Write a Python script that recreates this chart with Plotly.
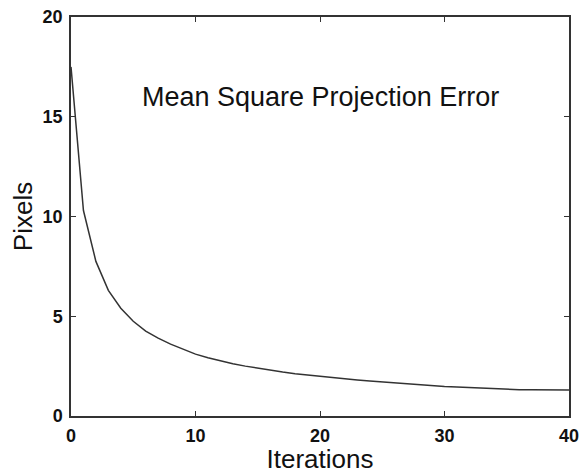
import plotly.graph_objects as go

iterations = list(range(0, 41))
pixels = [17.5, 10.3, 7.75, 6.3, 5.4, 4.75, 4.25, 3.9, 3.6, 3.35,
          3.1, 2.92, 2.76, 2.62, 2.5, 2.39, 2.29, 2.2, 2.12, 2.05,
          1.98, 1.92, 1.86, 1.8, 1.75, 1.7, 1.65, 1.61, 1.57, 1.53,
          1.48, 1.45, 1.42, 1.39, 1.36, 1.34, 1.32, 1.31, 1.30, 1.30, 1.30]
x_ticks = [0, 10, 20, 30, 40]
y_ticks = [0, 5, 10, 15, 20]
title_text = "Mean Square Projection Error"

FONT = "Liberation Sans, Arial"

fig = go.Figure()
fig.add_trace(go.Scatter(x=iterations, y=pixels, mode="lines",
                         line=dict(color="#333333", width=1.5),
                         showlegend=False, hoverinfo="skip"))

fig.add_annotation(x=20, y=16, text=title_text, showarrow=False,
                   font=dict(family=FONT, size=27, color="#111111"),
                   xanchor="center", yanchor="middle")

axis_common = dict(
    showgrid=False, zeroline=False, showline=True, linecolor="#333333",
    linewidth=1.5, mirror="ticks", ticks="inside", ticklen=5,
    tickwidth=1.2, tickcolor="#333333", automargin=False,
    tickfont=dict(family=FONT, size=18, color="#111111", weight="bold"),
)

fig.update_xaxes(range=[0, 40], tickvals=x_ticks, ticklabelstandoff=3,
                 title=dict(text="Iterations", standoff=3,
                            font=dict(family=FONT, size=26, color="#111111")),
                 **axis_common)
fig.update_yaxes(range=[0, 20], tickvals=y_ticks, ticklabelstandoff=3,
                 title=dict(text="Pixels", standoff=3,
                            font=dict(family=FONT, size=26, color="#111111")),
                 **axis_common)

fig.update_layout(width=584, height=474,
                  margin=dict(l=71, r=15, t=17, b=58),
                  paper_bgcolor="white", plot_bgcolor="white")

fig.write_html("out.html", config={"displayModeBar": False},
               post_script="document.body.style.margin='0';")
